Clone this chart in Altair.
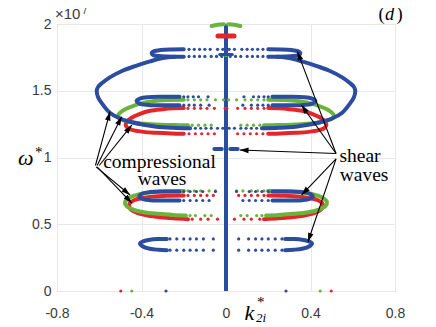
import math
import altair as alt
import pandas as pd

BLUE = "#2c4c9f"
RED = "#e4262b"
GREEN = "#6ab43e"

X_TICKS = [-0.8, -0.4, 0, 0.4, 0.8]
Y_TICKS = [0, 0.5, 1, 1.5, 2]

# ---- dense curve parts, left half (k*<0); right half is the mirror image ----
BLUE_TOP_K = [-0.20, -0.26, -0.31, -0.34, -0.352, -0.345, -0.32, -0.28, -0.24, -0.20]
BLUE_TOP_W = [1.81, 1.809, 1.805, 1.797, 1.783, 1.768, 1.760, 1.756, 1.755, 1.755]
BLUE_BIG_K = [-0.24, -0.30, -0.36, -0.43, -0.49, -0.55, -0.585, -0.605, -0.612, -0.605,
              -0.585, -0.55, -0.50, -0.455, -0.39, -0.33, -0.25, -0.17]
BLUE_BIG_W = [1.755, 1.745, 1.72, 1.685, 1.65, 1.60, 1.56, 1.53, 1.50, 1.45,
              1.40, 1.335, 1.29, 1.268, 1.245, 1.231, 1.223, 1.219]
BLUE_MID_K = [-0.22, -0.30, -0.37, -0.405, -0.423, -0.41, -0.37, -0.30, -0.22]
BLUE_MID_W = [1.455, 1.455, 1.452, 1.443, 1.425, 1.405, 1.394, 1.392, 1.392]
GREEN_MID_K = [-0.20, -0.28, -0.34, -0.40, -0.45, -0.49, -0.51, -0.505, -0.48, -0.44,
               -0.38, -0.31, -0.24, -0.18]
GREEN_MID_W = [1.432, 1.43, 1.423, 1.405, 1.38, 1.35, 1.318, 1.295, 1.278, 1.262,
               1.252, 1.246, 1.243, 1.242]
RED_MID_K = [-0.20, -0.25, -0.30, -0.36, -0.41, -0.445, -0.468, -0.475, -0.465, -0.44,
             -0.39, -0.33, -0.26, -0.20]
RED_MID_W = [1.37, 1.368, 1.362, 1.35, 1.325, 1.30, 1.27, 1.245, 1.22, 1.205,
             1.192, 1.185, 1.18, 1.178]
BLUE_UP_K = [-0.22, -0.30, -0.36, -0.395, -0.41, -0.40, -0.36, -0.30, -0.22]
BLUE_UP_W = [0.745, 0.745, 0.741, 0.73, 0.712, 0.692, 0.68, 0.678, 0.678]
GREEN_LOW_K = [-0.20, -0.28, -0.35, -0.41, -0.455, -0.478, -0.47, -0.44, -0.39, -0.32, -0.25, -0.19]
GREEN_LOW_W = [0.75, 0.748, 0.74, 0.725, 0.70, 0.665, 0.635, 0.61, 0.59, 0.578, 0.57, 0.565]
RED_LOW_K = [-0.20, -0.28, -0.35, -0.40, -0.435, -0.455, -0.458, -0.45, -0.42, -0.37,
             -0.31, -0.25, -0.18]
RED_LOW_W = [0.716, 0.714, 0.707, 0.695, 0.68, 0.66, 0.635, 0.61, 0.585, 0.565,
             0.552, 0.544, 0.538]
BLUE_LOW_K = [-0.28, -0.32, -0.36, -0.392, -0.407, -0.395, -0.36, -0.32, -0.28]
BLUE_LOW_W = [0.39, 0.389, 0.384, 0.372, 0.356, 0.335, 0.316, 0.309, 0.306]
GREEN_TOP_K = [-0.068, -0.04, -0.01]
GREEN_TOP_W = [1.985, 1.995, 1.998]
RED_TOP_K = [-0.038, -0.008]
RED_TOP_W = [1.91, 1.91]
BLUE_SPLIT_K = [-0.03, 0.0]
BLUE_SPLIT_W = [1.772, 1.772]
BLUE_DASH_K = [-0.055, -0.02]
BLUE_DASH_W = [1.064, 1.064]

# ---- sparse dots (left half), one omega per branch ----
DOT_BRANCHES = [
    (BLUE, 1.81, [-0.175, -0.15, -0.125, -0.10, -0.075, -0.04, -0.015]),
    (BLUE, 1.757, [-0.175, -0.15, -0.125, -0.10, -0.07, -0.045, -0.02]),
    (BLUE, 1.219, [-0.145, -0.12, -0.095, -0.07, -0.04, -0.015]),
    (BLUE, 1.455, [-0.20, -0.18, -0.155, -0.13, -0.085]),
    (BLUE, 1.392, [-0.20, -0.175, -0.15, -0.12, -0.08]),
    (GREEN, 1.432, [-0.18, -0.15, -0.12, -0.09, -0.05, -0.012]),
    (GREEN, 1.242, [-0.16, -0.13, -0.10, -0.07]),
    (RED, 1.368, [-0.18, -0.15, -0.12, -0.09, -0.055, -0.004]),
    (RED, 1.178, [-0.175, -0.145, -0.115, -0.085, -0.055]),
    (BLUE, 0.745, [-0.20, -0.17, -0.14, -0.11, -0.05]),
    (BLUE, 0.678, [-0.20, -0.17, -0.14, -0.11, -0.08]),
    (GREEN, 0.75, [-0.18, -0.15, -0.12, -0.08, -0.05]),
    (GREEN, 0.565, [-0.17, -0.145, -0.10, -0.07]),
    (RED, 0.716, [-0.18, -0.15, -0.12, -0.09, -0.06]),
    (RED, 0.538, [-0.16, -0.12, -0.085, -0.04]),
    (BLUE, 0.39, [-0.265, -0.233, -0.20, -0.17, -0.14, -0.107, -0.06]),
    (BLUE, 0.306, [-0.265, -0.233, -0.20, -0.17, -0.14, -0.107, -0.06]),
    (GREEN, 1.765, [-0.003]),
]
ZERO_K = [-0.498, -0.446, -0.284]
ZERO_C = [RED, GREEN, BLUE]

# ---- annotation arrows (from, to) in data units ----
COMP_FROM_K = [-0.618, -0.61, -0.60, -0.615, -0.61]
COMP_FROM_W = [0.94, 0.94, 0.94, 0.93, 0.93]
COMP_TO_K = [-0.549, -0.494, -0.446, -0.454, -0.446]
COMP_TO_W = [1.343, 1.306, 1.243, 0.719, 0.659]
SHEAR_FROM_K = [0.521, 0.521, 0.521, 0.521, 0.521]
SHEAR_FROM_W = [1.03, 1.03, 1.03, 0.99, 0.99]
SHEAR_TO_K = [0.338, 0.357, 0.065, 0.358, 0.388]
SHEAR_TO_W = [1.793, 1.393, 1.056, 0.72, 0.369]

# ---------------------------------------------------------------------------
W_PX, H_PX = 338, 267

lines = [
    ("bt", BLUE, BLUE_TOP_K, BLUE_TOP_W, 4),
    ("bb", BLUE, BLUE_BIG_K, BLUE_BIG_W, 4),
    ("bm", BLUE, BLUE_MID_K, BLUE_MID_W, 4),
    ("gm", GREEN, GREEN_MID_K, GREEN_MID_W, 4),
    ("rm", RED, RED_MID_K, RED_MID_W, 4),
    ("bu", BLUE, BLUE_UP_K, BLUE_UP_W, 4),
    ("gl", GREEN, GREEN_LOW_K, GREEN_LOW_W, 4),
    ("rl", RED, RED_LOW_K, RED_LOW_W, 4),
    ("bl", BLUE, BLUE_LOW_K, BLUE_LOW_W, 4),
    ("gt", GREEN, GREEN_TOP_K, GREEN_TOP_W, 4),
    ("rt", RED, RED_TOP_K, RED_TOP_W, 5),
    ("bs", BLUE, BLUE_SPLIT_K, BLUE_SPLIT_W, 3),
    ("bd", BLUE, BLUE_DASH_K, BLUE_DASH_W, 4),
]
layer_order = {RED: 0, GREEN: 1, BLUE: 2}

line_rows = []
for name, col, ks, ws, sw in lines:
    for side in (1, -1):
        for i, (k, w) in enumerate(zip(ks, ws)):
            line_rows.append({"g": f"{name}{side}", "c": col, "k": side * k, "w": w, "o": i,
                              "sw": sw, "lo": layer_order[col]})
line_df = pd.DataFrame(line_rows)

dot_rows = []
for col, w, ks in DOT_BRANCHES:
    for k in ks:
        for side in (1, -1):
            dot_rows.append({"c": col, "k": side * k, "w": w, "lo": layer_order[col]})
for k, col in zip(ZERO_K, ZERO_C):
    for side in (1, -1):
        dot_rows.append({"c": col, "k": side * k, "w": 0.0, "lo": layer_order[col]})
dot_df = pd.DataFrame(dot_rows)

arrow_rows = []
for fk, fw, tk, tw in list(zip(COMP_FROM_K, COMP_FROM_W, COMP_TO_K, COMP_TO_W)) + \
        list(zip(SHEAR_FROM_K, SHEAR_FROM_W, SHEAR_TO_K, SHEAR_TO_W)):
    dx = (tk - fk) * W_PX / 1.6
    dy = -(tw - fw) * H_PX / 2.0
    ang = (math.degrees(math.atan2(dx, -dy)) + 360) % 360
    arrow_rows.append({"k1": fk, "w1": fw, "k2": tk, "w2": tw, "ang": ang})
arrow_df = pd.DataFrame(arrow_rows)

axis_df = pd.DataFrame({"k": [0.0], "w0": [0.0], "w1": [2.0]})

XS = alt.Scale(domain=[-0.8, 0.8], nice=False, zero=False)
YS = alt.Scale(domain=[0, 2], nice=False)
x_axis = alt.Axis(values=X_TICKS, labelExpr="datum.value == 0 ? '0' : toString(datum.value)",
                  title=None, grid=True, ticks=False, domain=False, labelPadding=15,
                  labelFlush=False, labelOverlap=False)
y_axis = alt.Axis(values=Y_TICKS, labelExpr="toString(datum.value)", title=None, grid=True,
                  ticks=False, domain=False, labelPadding=6, labelFlush=False, labelOverlap=False)


def X(f):
    return alt.X(f, type="quantitative", scale=XS, axis=x_axis)


def Y(f):
    return alt.Y(f, type="quantitative", scale=YS, axis=y_axis)


vline = alt.Chart(axis_df).mark_rule(color=BLUE, strokeWidth=4).encode(
    x=X("k"), y=Y("w0"), y2="w1")

layers = [vline]
for lo in (0, 1, 2):
    ld = line_df[line_df.lo == lo]
    for sw in sorted(ld.sw.unique()):
        sub = ld[ld.sw == sw]
        layers.append(
            alt.Chart(sub).mark_line(interpolate="catmull-rom", strokeWidth=float(sw),
                                     strokeCap="round").encode(
                x=X("k"), y=Y("w"), detail="g:N", order="o:Q",
                color=alt.Color("c:N", scale=None)))
    layers.append(
        alt.Chart(dot_df[dot_df.lo == lo]).mark_point(filled=True, size=10, opacity=1).encode(
            x=X("k"), y=Y("w"), color=alt.Color("c:N", scale=None)))

arrows = alt.Chart(arrow_df).mark_rule(color="black", strokeWidth=1.1).encode(
    x=X("k1"), y=Y("w1"), x2="k2", y2="w2")
heads = alt.Chart(arrow_df).mark_point(
    shape="M0,0L0.7,2.2L-0.7,2.2Z", filled=True, color="black", size=64, opacity=1).encode(
    x=X("k2"), y=Y("w2"), angle=alt.Angle("ang:Q", scale=None))
layers += [arrows, heads]

ONE = pd.DataFrame({"z": [0]})
SERIF = "Liberation Serif"
SANS = "Liberation Sans"


def txt(s, x, y, size, font=SERIF, style="normal", align="left", color="black"):
    return alt.Chart(ONE).mark_text(text=s, font=font, fontSize=size, fontStyle=style,
                                    align=align, baseline="alphabetic", color=color).encode(
        x=alt.value(x), y=alt.value(y))


layers += [
    txt("compressional", 102.5, 144, 19.5, align="center"),
    txt("waves", 105, 161, 19.5, align="center"),
    txt("shear", 303, 138, 19.5, align="center"),
    txt("waves", 307, 156.5, 19.5, align="center"),
    txt("×10", -2, -5, 15, font=SANS, color="#3a3a3a"),
    txt("7", 25, -10.5, 10, font=SANS, color="#3a3a3a"),
    txt("(", 321.5, -4, 18.5),
    txt("d", 328, -4, 18.5, style="italic"),
    txt(")", 339.5, -4, 18.5),
    txt("ω", -39, 141, 22, style="italic"),
    txt("*", -22, 133, 15),
    txt("k", 187.5, 296, 22, style="italic"),
    txt("*", 200, 283, 15),
    txt("2i", 199, 298, 13, style="italic"),
]

chart = alt.layer(*layers).properties(
    width=W_PX, height=H_PX,
    autosize=alt.AutoSizeParams(type="none"),
    padding={"left": 49, "top": 16, "right": 33, "bottom": 36},
).configure_view(stroke="#a0a0a0", strokeWidth=1).configure_axis(
    labelFont=SANS, labelFontSize=14, labelColor="#3a3a3a",
    gridColor="#e8e8e8", gridWidth=1,
)

chart.save("out.html", embed_options={"renderer": "svg", "actions": False})
